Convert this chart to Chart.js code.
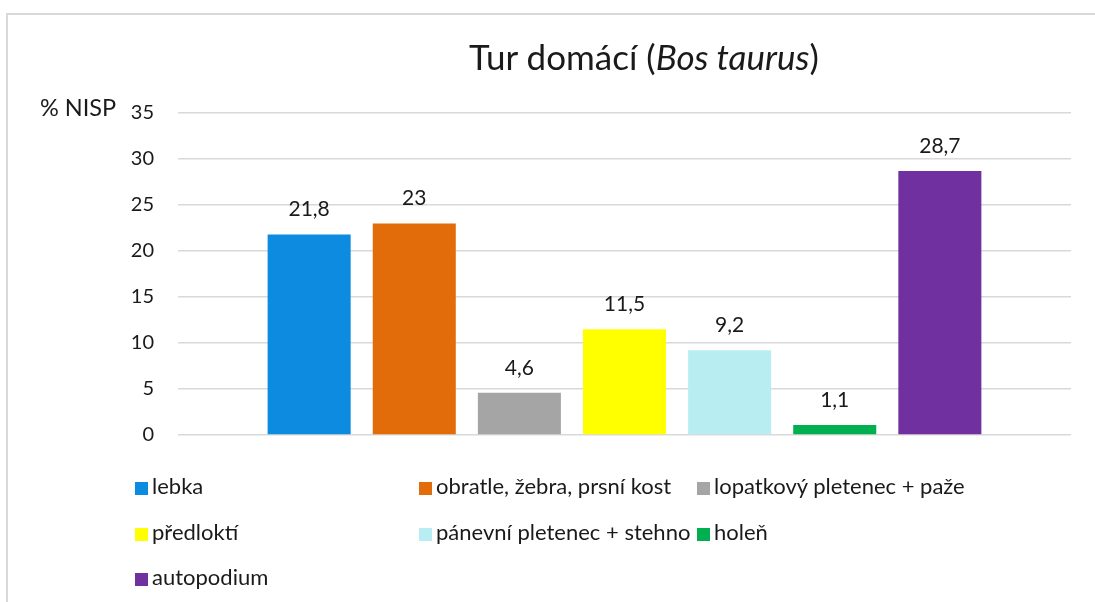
<!DOCTYPE html>
<html>
<head>
<meta charset="utf-8">
<script src="https://cdn.jsdelivr.net/npm/chart.js@4/dist/chart.umd.min.js"></script>
<style>
  html, body { margin: 0; padding: 0; background: #fff; overflow: hidden; }
  body { width: 1095px; height: 602px; position: relative; font-family: Lato, "Noto Sans", sans-serif; color: #1a1a1a; }
  #frame { position: absolute; left: 6px; top: 13px; right: -10px; bottom: -10px; border: 2px solid #d9d9d9; }
  #wrap { position: absolute; left: 0; top: 0; width: 1095px; height: 602px; }
  #title { position: absolute; left: 394px; width: 500px; top: 35px; text-align: center; font-size: 35px; white-space: nowrap; }
  #ylab { position: absolute; left: 40px; top: 93px; font-size: 23.5px; white-space: nowrap; }
  .leg { position: absolute; font-size: 22px; white-space: nowrap; line-height: 24px; }
  .leg i { display: inline-block; width: 13px; height: 13px; margin-right: 4px; vertical-align: -1px; }
</style>
</head>
<body>
<div id="frame"></div>
<div id="wrap"><canvas id="c" width="1095" height="602"></canvas></div>
<div id="title">Tur domácí (<em>Bos taurus</em>)</div>
<div id="ylab">% NISP</div>
<div id="legend"></div>
<script>
// bone groups, share of NISP (%)
var parts = ['lebka', 'obratle, žebra, prsní kost', 'lopatkový pletenec + paže',
             'předloktí', 'pánevní pletenec + stehno', 'holeň', 'autopodium'];
var nisp = [21.8, 23, 4.6, 11.5, 9.2, 1.1, 28.7];
var colors = ['#0c8be0', '#e36c0a', '#a5a5a5', '#ffff00', '#b8eef1', '#00b050', '#7030a0'];
var yTicks = [0, 5, 10, 15, 20, 25, 30, 35];

// legend slots (excel lays it out in 3 columns)
var legendPos = [[135, 474], [419, 474], [697, 474],
                 [135, 520], [419, 520], [697, 520],
                 [135, 565]];

var legend = document.getElementById('legend');
parts.forEach(function (p, i) {
  var d = document.createElement('div');
  d.className = 'leg';
  d.style.left = legendPos[i][0] + 'px';
  d.style.top = legendPos[i][1] + 'px';
  d.innerHTML = '<i style="background:' + colors[i] + '"></i>' + p;
  legend.appendChild(d);
});

var valueLabels = {
  id: 'valueLabels',
  afterDatasetsDraw: function (chart) {
    var ctx = chart.ctx;
    ctx.save();
    ctx.font = '21px Lato';
    ctx.fillStyle = '#1a1a1a';
    ctx.textAlign = 'center';
    ctx.textBaseline = 'alphabetic';
    chart.data.datasets.forEach(function (ds, i) {
      var bar = chart.getDatasetMeta(i).data[0];
      ctx.fillText(String(ds.data[0]).replace('.', ','), bar.x, bar.y - 18);
    });
    ctx.restore();
  }
};

new Chart(document.getElementById('c'), {
  type: 'bar',
  data: {
    labels: [''],
    datasets: parts.map(function (p, i) {
      return { label: p, data: [nisp[i]], backgroundColor: colors[i] };
    })
  },
  options: {
    responsive: false,
    animation: false,
    layout: { padding: { left: 100, right: 24, top: 113, bottom: 167 } },
    datasets: { bar: { categoryPercentage: 0.824, barPercentage: 0.79 } },
    plugins: { legend: { display: false }, title: { display: false }, tooltip: { enabled: false } },
    scales: {
      x: { display: false },
      y: {
        min: 0, max: 35,
        afterBuildTicks: function (s) { s.ticks = yTicks.map(function (v) { return { value: v }; }); },
        afterFit: function (s) { s.width = 78; },
        border: { display: false },
        grid: { color: '#d9d9d9', lineWidth: 1.5, drawTicks: false },
        ticks: { padding: 24, color: '#1a1a1a', font: { family: 'Lato', size: 20 } }
      }
    }
  },
  plugins: [valueLabels]
});
</script>
</body>
</html>
